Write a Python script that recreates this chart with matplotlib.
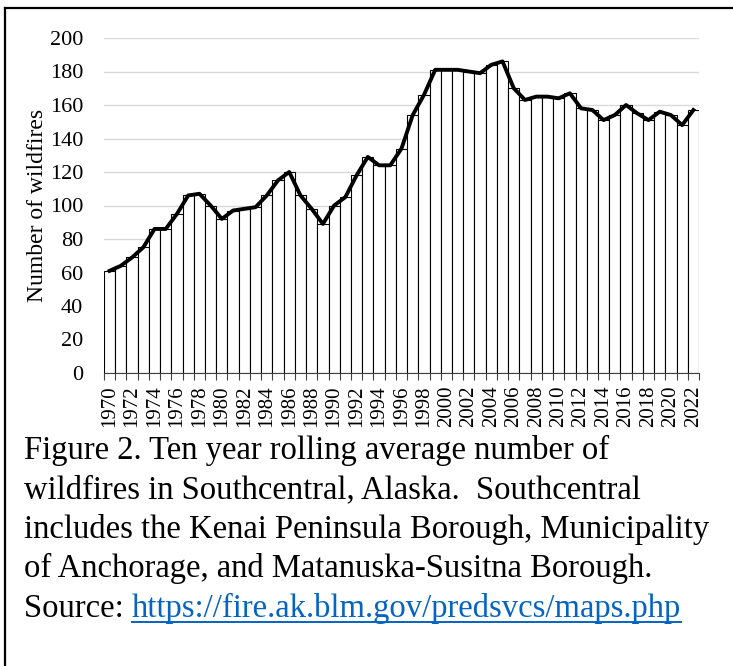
import numpy as np
import matplotlib
matplotlib.use('Agg')
from matplotlib import pyplot as plt
from matplotlib.lines import Line2D

# ---DATA--- ten year rolling average, Southcentral Alaska
years = list(range(1970, 2023))
wildfires = [61, 64, 69, 75, 86, 86, 95, 106, 107, 100,
             92, 97, 98, 99, 106, 115, 120, 106, 98, 89,
             100, 105, 118, 129, 124, 124, 134, 154, 166, 181,
             181, 181, 180, 179, 184, 186, 170, 163, 165, 165,
             164, 167, 158, 157, 151, 154, 160, 155, 151, 156,
             154, 148, 157]
ytick_vals = list(range(0, 201, 20))
caption_lines = ["Figure 2. Ten year rolling average number of",
                 "wildfires in Southcentral, Alaska.  Southcentral",
                 "includes the Kenai Peninsula Borough, Municipality",
                 "of Anchorage, and Matanuska-Susitna Borough."]
source_label = "Source: "
source_url = "https://fire.ak.blm.gov/predsvcs/maps.php"

W, H = 733, 666
plt.rcParams['font.family'] = ['Liberation Serif', 'DejaVu Serif']

fig = plt.figure(figsize=(W / 100, H / 100), dpi=100)
ax = fig.add_axes([104 / W, 1 - 373 / H, (699 - 104) / W, (373 - 38) / H])

x = np.arange(len(years))
ax.bar(x, wildfires, width=1.0, color='white', edgecolor='black', linewidth=0.8, zorder=2)
ax.plot(x, wildfires, color='black', linewidth=2.8, solid_joinstyle='round', zorder=3)

ax.set_xlim(-0.5, len(years) - 0.5)
ax.set_ylim(0, 200)
ax.set_yticks(ytick_vals)
ax.tick_params(axis='y', length=0, pad=15, labelsize=16)
ax.yaxis.grid(True, color='#d9d9d9', linewidth=1.0)
ax.set_axisbelow(True)

ax.set_xticks(x[::2])
ax.set_xticklabels([str(y) for y in years[::2]], rotation=90)
ax.tick_params(axis='x', length=0, pad=9, labelsize=15)
ax.set_xticks(np.arange(-0.5, len(years)), minor=True)
ax.tick_params(axis='x', which='minor', length=5, width=0.8, color='#404040')

for s in ['top', 'right', 'left']:
    ax.spines[s].set_visible(False)
ax.spines['bottom'].set_color('#404040')
ax.spines['bottom'].set_linewidth(0.8)

ax.set_ylabel('Number of wildfires', fontsize=17, labelpad=1)

# caption
cap_size = 23.5
baselines = [459, 498.5, 538, 577]
for line, b in zip(caption_lines, baselines):
    fig.text(24 / W, 1 - b / H, line, fontsize=cap_size, va='baseline', ha='left')

t1 = fig.text(24 / W, 1 - 617 / H, source_label, fontsize=cap_size, va='baseline', ha='left')
fig.canvas.draw()
bb = t1.get_window_extent(renderer=fig.canvas.get_renderer())
x_url = bb.x1 / W
t2 = fig.text(x_url, 1 - 617 / H, source_url, fontsize=cap_size, va='baseline', ha='left',
              color='#0563C1')
fig.canvas.draw()
bb2 = t2.get_window_extent(renderer=fig.canvas.get_renderer())
fig.add_artist(Line2D([bb2.x0 / W, bb2.x1 / W], [1 - 622 / H, 1 - 622 / H],
                      color='#0563C1', linewidth=1.4))

# border round the figure box
fig.add_artist(Line2D([4.5 / W, 1.0], [1 - 7.5 / H, 1 - 7.5 / H], color='black', linewidth=1.6))
fig.add_artist(Line2D([4.5 / W, 4.5 / W], [0, 1 - 7.5 / H], color='black', linewidth=1.6))

fig.savefig('out.png', dpi=100)
